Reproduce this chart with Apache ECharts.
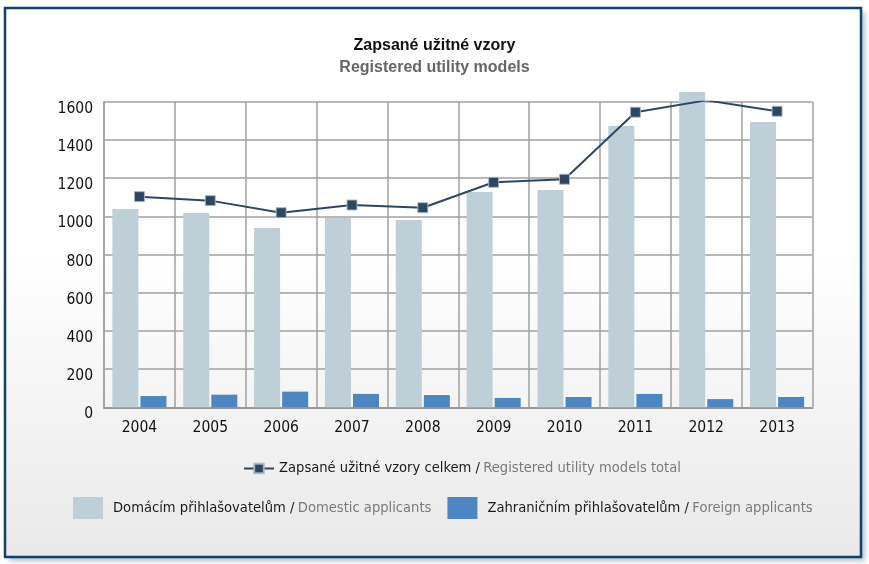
<!DOCTYPE html>
<html>
<head>
<meta charset="utf-8">
<script src="https://cdn.jsdelivr.net/npm/echarts@6/dist/echarts.min.js"></script>
<style>html,body{margin:0;padding:0;background:#fff;}#c{width:869px;height:564px;}</style>
</head>
<body>
<div id="c"></div>
<script>
const years = ['2004','2005','2006','2007','2008','2009','2010','2011','2012','2013'];
const domestic = [1038, 1017, 939, 991, 981, 1127, 1138, 1473, 1651, 1494];
const foreign = [59, 66, 82, 70, 64, 49, 54, 70, 43, 54];
const total = [1103, 1082, 1019, 1059, 1045, 1178, 1194, 1545, 1607, 1550];
const yTicks = [0, 1600, 200];
const titleCz = 'Zapsané užitné vzory';
const titleEn = 'Registered utility models';
const nameTotal = 'Zapsané užitné vzory celkem / Registered utility models total';
const nameDomestic = 'Domácím přihlašovatelům / Domestic applicants';
const nameForeign = 'Zahraničním přihlašovatelům / Foreign applicants';

const FONT = '"DejaVu Sans Condensed", "Liberation Sans", sans-serif';
const legendRich = {
  a: { color: '#1a1a1a', fontSize: 14.6, fontFamily: FONT },
  b: { color: '#7a7a7a', fontSize: 14.6, fontFamily: FONT }
};
const legendFmt = n => { const p = n.split(' / '); return '{a|' + p[0] + ' /} {b|' + p[1] + '}'; };

const chart = echarts.init(document.getElementById('c'), null, { renderer: 'canvas' });
chart.setOption({
  backgroundColor: '#ffffff',
  animation: false,
  graphic: [
    { type: 'rect', z: -10, silent: true,
      shape: { x: 5, y: 8, width: 856, height: 549 },
      style: { fill: new echarts.graphic.LinearGradient(0, 0, 0, 1, [
        { offset: 0, color: '#ffffff' }, { offset: 0.45, color: '#ffffff' }, { offset: 1, color: '#e9e9e9' }]),
        shadowBlur: 5, shadowOffsetX: 4, shadowOffsetY: 4, shadowColor: 'rgba(90,120,150,0.45)' } },
    { type: 'rect', z: 100, silent: true,
      shape: { x: 5, y: 8, width: 856, height: 549 },
      style: { fill: 'none', stroke: '#0f426f', lineWidth: 2.5 } }
  ],
  title: {
    text: titleCz, subtext: titleEn, left: 'center', top: 33, itemGap: 6,
    textStyle: { fontFamily: '"Liberation Sans", Arial, sans-serif', fontSize: 16, fontWeight: 'bold', color: '#111' },
    subtextStyle: { fontFamily: '"Liberation Sans", Arial, sans-serif', fontSize: 16, fontWeight: 'bold', color: '#666' }
  },
  legend: [
    { data: [nameTotal], left: 238, top: 456, width: 600, orient: 'horizontal', itemWidth: 30, itemHeight: 12,
      formatter: legendFmt, textStyle: { rich: legendRich } },
    { data: [nameDomestic, nameForeign], left: 68, top: 492, width: 790, orient: 'horizontal',
      itemWidth: 30, itemHeight: 22, itemGap: 16,
      icon: 'rect', formatter: legendFmt, textStyle: { rich: legendRich, padding: [0, 0, 0, 5] } }
  ],
  grid: { left: 104, right: 56.5, top: 101.7, bottom: 156.7, containLabel: false },
  xAxis: {
    type: 'category', data: years, boundaryGap: true,
    axisLine: { show: true, lineStyle: { color: '#9a9a9a', width: 2 } },
    axisTick: { show: false },
    axisLabel: { color: '#111', fontSize: 15.5, fontFamily: FONT, margin: 13 },
    splitLine: { show: true, interval: 0, lineStyle: { color: '#a0a0a0', width: 1.5 } }
  },
  yAxis: {
    type: 'value', min: yTicks[0], max: yTicks[1], interval: yTicks[2],
    axisLine: { show: true, lineStyle: { color: '#a0a0a0', width: 1.5 } },
    axisTick: { show: false },
    axisLabel: { color: '#111', fontSize: 15.5, fontFamily: FONT, margin: 11,
      verticalAlign: 'top', lineHeight: 14, formatter: v => String(v) },
    splitLine: { show: true, lineStyle: { color: '#a0a0a0', width: 1.5 } }
  },
  series: [
    { name: nameDomestic, type: 'bar', data: domestic, barWidth: 26, barGap: '8%', clip: false,
      itemStyle: { color: '#bfcfd7' }, z: 2 },
    { name: nameForeign, type: 'bar', data: foreign, barWidth: 26, barGap: '8%', clip: false,
      itemStyle: { color: '#4d87c2' }, z: 2 },
    { name: nameTotal, type: 'line', data: total, symbol: 'rect', symbolSize: 10,
      lineStyle: { color: '#2e4761', width: 2 },
      itemStyle: { color: '#2e4761', borderColor: 'rgba(170,185,200,0.9)', borderWidth: 1 }, z: 5 }
  ]
});
</script>
</body>
</html>
